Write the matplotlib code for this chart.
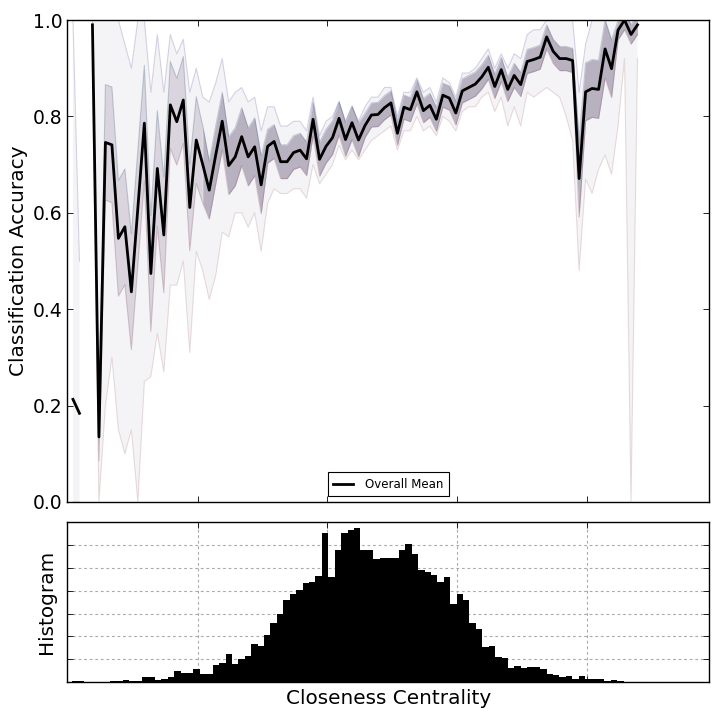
import numpy as np
import matplotlib
matplotlib.use('Agg')
import matplotlib.pyplot as plt

nan = np.nan

# ---- per-bin classification accuracy ----
mean_acc = [0.213, 0.184, nan, 0.99, 0.135, 0.746, 0.741, 0.547, 0.571, 0.436,
            0.61, 0.786, 0.474, 0.692, 0.554, 0.824, 0.789, 0.834, 0.611, 0.751,
            0.70, 0.647, 0.72, 0.790, 0.698, 0.716, 0.758, 0.716, 0.737, 0.658,
            0.738, 0.748, 0.706, 0.706, 0.725, 0.730, 0.712, 0.794, 0.711, 0.738,
            0.756, 0.796, 0.752, 0.787, 0.751, 0.781, 0.803, 0.804, 0.818, 0.828,
            0.765, 0.819, 0.814, 0.851, 0.812, 0.823, 0.794, 0.844, 0.838, 0.807,
            0.853, 0.860, 0.867, 0.882, 0.902, 0.862, 0.897, 0.856, 0.885, 0.866,
            0.914, 0.918, 0.923, 0.965, 0.935, 0.920, 0.920, 0.916, 0.671, 0.851,
            0.858, 0.856, 0.940, 0.899, 0.979, 1.0, 0.970, 0.990]

upper_acc = [1.0, 0.5, nan, 1.0, 1.0, 1.0, 1.0, 1.0, 0.95, 0.9,
             1.0, 1.0, 0.85, 0.97, 0.85, 0.97, 0.93, 0.96, 0.85, 0.9,
             0.84, 0.83, 0.87, 0.92, 0.83, 0.85, 0.86, 0.83, 0.84, 0.77,
             0.82, 0.82, 0.78, 0.78, 0.79, 0.79, 0.77, 0.84, 0.76, 0.79,
             0.80, 0.83, 0.79, 0.82, 0.79, 0.82, 0.84, 0.84, 0.86, 0.86,
             0.80, 0.85, 0.85, 0.88, 0.85, 0.86, 0.83, 0.88, 0.87, 0.84,
             0.89, 0.89, 0.90, 0.92, 0.94, 0.90, 0.93, 0.90, 0.93, 0.92,
             0.97, 0.98, 0.98, 1.0, 1.0, 1.0, 1.0, 1.0, 0.85, 0.95,
             1.0, 1.0, 1.0, 1.0, 1.0, 1.0, 1.0, 1.0]

lower_acc = [0.0, 0.0, nan, 0.9, 0.0, 0.2, 0.3, 0.15, 0.1, 0.15,
             0.0, 0.25, 0.26, 0.35, 0.27, 0.45, 0.45, 0.5, 0.31, 0.52,
             0.48, 0.42, 0.47, 0.56, 0.55, 0.60, 0.60, 0.57, 0.60, 0.52,
             0.62, 0.65, 0.64, 0.64, 0.65, 0.65, 0.63, 0.70, 0.66, 0.68,
             0.70, 0.74, 0.71, 0.73, 0.71, 0.73, 0.75, 0.76, 0.77, 0.78,
             0.73, 0.77, 0.77, 0.80, 0.77, 0.78, 0.76, 0.80, 0.79, 0.77,
             0.81, 0.82, 0.82, 0.84, 0.85, 0.81, 0.84, 0.78, 0.82, 0.78,
             0.85, 0.84, 0.85, 0.86, 0.85, 0.84, 0.80, 0.75, 0.48, 0.67,
             0.64, 0.69, 0.72, 0.68, 0.78, 0.92, 0.0, 0.92]

core_halfwidth = [0.0, 0.0, nan, 0.01, 0.05, 0.12, 0.12, 0.12, 0.12, 0.12,
                  0.12, 0.12, 0.12, 0.12, 0.12, 0.09, 0.09, 0.09, 0.09, 0.09,
                  0.08, 0.06, 0.06, 0.06, 0.06, 0.06, 0.06, 0.06, 0.06, 0.06,
                  0.035, 0.035, 0.035, 0.035, 0.035, 0.035, 0.035, 0.035, 0.035, 0.035,
                  0.035, 0.035, 0.035, 0.035, 0.035, 0.025, 0.025, 0.025, 0.025, 0.025,
                  0.025, 0.025, 0.025, 0.025, 0.025, 0.025, 0.025, 0.025, 0.025, 0.025,
                  0.025, 0.025, 0.025, 0.025, 0.025, 0.025, 0.025, 0.025, 0.025, 0.025,
                  0.025, 0.025, 0.025, 0.025, 0.025, 0.025, 0.025, 0.025, 0.08, 0.06,
                  0.06, 0.06, 0.06, 0.06, 0.02, 0.02, 0.02, 0.02]

line_x_start = 0.1039
line_x_step = 0.005
sparse_until = 0.205   # left part of the curve where runs are widely spread

# ---- histogram of closeness centrality ----
hist_counts = [3, 3, 0, 0, 0, 0, 4, 4, 9, 4,
               4, 23, 23, 9, 13, 23, 48, 41, 41, 57,
               35, 35, 74, 85, 123, 79, 101, 114, 166, 158,
               206, 257, 300, 359, 385, 403, 435, 439, 464, 654,
               461, 578, 651, 665, 675, 578, 578, 538, 543, 543,
               543, 578, 607, 563, 490, 483, 468, 439, 458, 341,
               385, 359, 257, 233, 155, 158, 111, 104, 60, 70,
               63, 66, 66, 55, 35, 31, 23, 26, 13, 26,
               13, 13, 13, 4, 7, 3, 0, 0, 0, 0,
               0, 0, 0, 0, 0, 0, 0, 0, 0, 0]
hist_start = 0.10277
hist_width = 0.004946

x_limits = (0.09954, 0.59414)
x_ticks = [0.2, 0.3, 0.4, 0.5]
acc_ticks = [0.0, 0.2, 0.4, 0.6, 0.8, 1.0]
hist_ylim = (0, 700)
hist_ticks = [0, 100, 200, 300, 400, 500, 600, 700]

# ---------------------------------------------------------------
plt.rcParams['font.family'] = ['DejaVu Sans']
LABEL_FS = 14.4

fig = plt.figure(figsize=(7.2, 7.2), dpi=100, facecolor='white')
ax = fig.add_axes([0.0935, 0.3028, 0.8915, 0.6694])
axh = fig.add_axes([0.0935, 0.0528, 0.8915, 0.2218])

n = len(mean_acc)
xs = line_x_start + line_x_step * np.arange(n)
mean = np.ma.masked_invalid(np.array(mean_acc))
up = np.ma.masked_invalid(np.array(upper_acc))
lo = np.ma.masked_invalid(np.array(lower_acc))
cw = np.ma.masked_invalid(np.array(core_halfwidth))

ax.fill_between(xs, lo, up, color='#9a8aa8', alpha=0.10, lw=0)
left = xs <= sparse_until
right = xs >= sparse_until - line_x_step
ax.fill_between(xs, mean - cw, mean + cw, where=left, color='#7a6a88',
                alpha=0.22, lw=0)
ax.fill_between(xs, mean - cw, mean + cw, where=right, color='#665777',
                alpha=0.42, lw=0)
ax.plot(xs, up, color='#6a5aa8', alpha=0.25, lw=0.8)
ax.plot(xs, lo, color='#b07a7a', alpha=0.25, lw=0.8)
ax.plot(xs, mean + cw, color='#4a6a8a', alpha=0.30, lw=0.8)
ax.plot(xs, mean - cw, color='#8a5a6a', alpha=0.30, lw=0.8)
ax.plot(xs, mean, color='black', lw=2.0, label='Overall Mean')

ax.set_xlim(*x_limits)
ax.set_ylim(0, 1)
ax.set_xticks(x_ticks)
ax.set_xticklabels([])
ax.set_yticks(acc_ticks)
ax.set_yticklabels(['%.1f' % t for t in acc_ticks], fontsize=13.5)
ax.set_ylabel('Classification Accuracy', fontsize=LABEL_FS)
ax.yaxis.set_label_coords(-0.061, 0.5)
leg = ax.legend(loc='lower center', fontsize=8.5, fancybox=False,
                framealpha=1, edgecolor='black', borderaxespad=0.5,
                borderpad=0.45, handlelength=1.7, handletextpad=1.0)
leg.get_frame().set_linewidth(0.8)

edges = hist_start + hist_width * np.arange(len(hist_counts) + 1)
axh.hist(edges[:-1], bins=edges, weights=hist_counts, color='black',
         edgecolor='none')
axh.set_xlim(*x_limits)
axh.set_ylim(*hist_ylim)
axh.set_xticks(x_ticks)
axh.set_xticklabels([])
axh.set_yticks(hist_ticks)
axh.set_yticklabels([])
axh.grid(True, color='#aaaaaa', linestyle=(0, (2.5, 2.5)), linewidth=0.8)
axh.set_axisbelow(True)
axh.set_ylabel('Histogram', fontsize=LABEL_FS)
axh.yaxis.set_label_coords(-0.0176, 0.5)
axh.set_xlabel('Closeness Centrality', fontsize=LABEL_FS)
axh.xaxis.set_label_coords(0.5, -0.045)

for a in (ax, axh):
    a.tick_params(direction='in', top=True, right=True, length=4, width=0.6)
    for s in a.spines.values():
        s.set_linewidth(1.0)
        s.set_color('black')

fig.savefig('out.png', dpi=100, facecolor='white')
